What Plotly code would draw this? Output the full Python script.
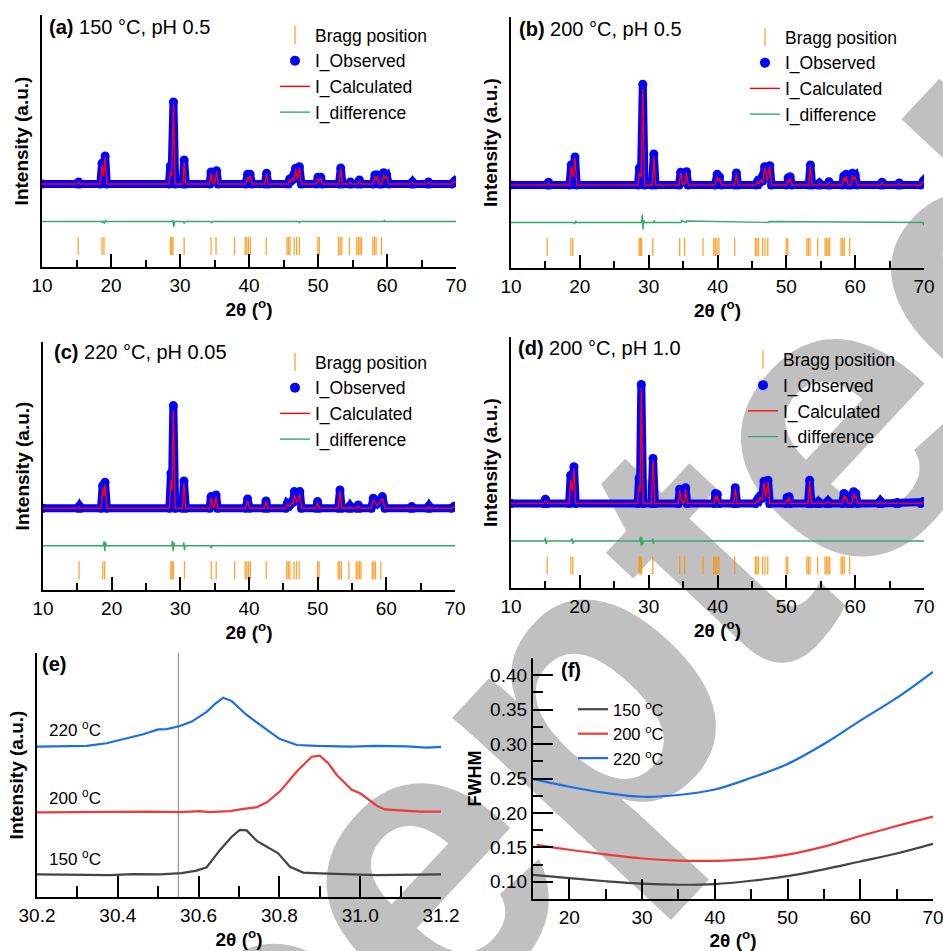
import plotly.graph_objects as go

FONT = "Arial, Liberation Sans, sans-serif"

# ---------------- data: Rietveld panels (vertices, a.u.) ----------------
a_x = [10.0,
       15.1, 15.3, 15.5,
       18.45, 18.7, 18.92, 19.15, 19.4,
       28.4, 28.6, 28.8, 29.05, 29.3,
       30.4, 30.6, 30.85,
       34.3, 34.5, 34.75, 35.05, 35.3, 35.55,
       39.5, 39.8, 39.97, 40.15, 40.45,
       42.3, 42.55, 42.8,
       45.7, 45.9, 46.1, 46.3, 46.52, 46.75, 47.02, 47.3, 47.6,
       49.75, 50.0, 50.2, 50.4, 50.65,
       53.05, 53.3, 53.55,
       54.5, 54.7, 54.9,
       55.75, 56.0, 56.25,
       58.0, 58.25, 58.42, 58.6, 58.85,
       59.25, 59.5, 59.72, 59.95, 60.25,
       63.5, 63.7, 63.9,
       65.8, 66.0, 66.2,
       69.4, 69.8, 70.0]
a_obs = [0,
         0, 2, 0,
         0, 20.7, 14, 28, 0,
         0, 18, 14, 82, 0,
         0, 24, 0,
         0, 12, 3, 3, 13.3, 0,
         0, 9.7, 8, 9.7, 0,
         0, 10.7, 0,
         0, 5, 3, 6.7, 5, 15.7, 8, 17.3, 0,
         0, 6.7, 5, 6.7, 0,
         0, 16, 0,
         0, 2, 0,
         0, 4, 0,
         0, 9, 7, 9, 0,
         0, 11.3, 8, 9, 0,
         0, 2, 0,
         0, 2, 0,
         0, 3, 1.5]
a_calc = [0,
          0, 1.5, 0,
          0, 19, 8, 27, 0,
          0, 12, 8, 80, 0,
          0, 22, 0,
          0, 11, 1, 1, 12.5, 0,
          0, 7, 4, 8, 0,
          0, 10, 0,
          0, 4, 2, 6, 3, 15, 5, 16.5, 0,
          0, 5.5, 3, 6, 0,
          0, 15.5, 0,
          0, 1.5, 0,
          0, 3, 0,
          0, 7.5, 4, 8, 0,
          0, 9.5, 5, 8, 0,
          0, 1.5, 0,
          0, 1.5, 0,
          0, 2.5, 1.5]
a_dx = [10, 18.6, 18.75, 18.9, 19.05, 19.2, 19.35, 28.85, 28.98, 29.1, 29.22, 30.45, 30.6, 30.75,
        34.45, 34.55, 34.7, 47.2, 47.3, 47.4, 59.5, 59.6, 59.7, 70]
a_dy = [-37.5, -37.5, -38.5, -37, -39.5, -36.5, -37.5, -37.5, -36.5, -43, -37.5, -37.5, -39.5, -37.5,
        -37.5, -39, -37.5, -37.5, -38.5, -37.5, -37.5, -36.5, -37.5, -37.5]

b_x = [10.0,
       15.25, 15.45, 15.65,
       18.5, 18.75, 19.0, 19.3, 19.55,
       28.45, 28.65, 28.9, 29.15, 29.4,
       30.5, 30.75, 31.0,
       34.4, 34.65, 34.95, 35.25, 35.5, 35.75,
       39.65, 39.95, 40.12, 40.3, 40.6,
       42.5, 42.75, 43.0,
       45.6, 45.8, 46.05, 46.3, 46.57, 46.85, 47.22, 47.6, 47.85,
       50.0, 50.25, 50.38, 50.55, 50.8,
       53.25, 53.5, 53.75,
       54.6, 54.8, 55.0,
       56.0, 56.2, 56.4,
       58.1, 58.35, 58.52, 58.7, 58.95,
       59.35, 59.6, 59.8, 60.0, 60.3,
       63.7, 63.9, 64.1,
       66.2, 66.4, 66.6,
       69.5, 69.9, 70.0]
b_obs = [0,
         0, 2.7, 0,
         0, 20, 14, 28, 0,
         0, 17, 14, 100.7, 0,
         0, 31, 0,
         0, 12.7, 3, 3, 13.3, 0,
         0, 10.7, 7, 8, 0,
         0, 12, 0,
         0, 3.3, 2, 6, 4, 18.3, 8, 19.3, 0,
         0, 7, 6, 8.3, 0,
         0, 20, 0,
         0, 1.7, 0,
         0, 3.3, 0,
         0, 9, 7, 10.7, 0,
         0, 11.7, 9, 10, 0,
         0, 2.7, 0,
         0, 2, 0,
         0, 4, 3]
b_calc = [0,
          0, 2, 0,
          0, 18, 8, 27, 0,
          0, 12, 8, 96, 0,
          0, 29, 0,
          0, 12, 1, 1, 12.5, 0,
          0, 8, 4, 7, 0,
          0, 11.5, 0,
          0, 3, 1, 5.5, 2, 17.5, 5, 18.5, 0,
          0, 5, 3, 7, 0,
          0, 19, 0,
          0, 1.2, 0,
          0, 2.5, 0,
          0, 7.5, 4, 9, 0,
          0, 10, 5, 8.5, 0,
          0, 2, 0,
          0, 1.5, 0,
          0, 3.5, 3]
b_dx = [10, 19.1, 19.25, 19.4, 19.55, 28.95, 29.08, 29.18, 29.3, 29.42, 30.7, 30.82, 30.95,
        34.7, 34.8, 35.4, 35.5, 47.4, 47.5, 69.85, 70]
b_dy = [-37.5, -37.5, -39, -36, -37.5, -37.5, -29.5, -44.5, -35.5, -37.5, -37.5, -35.5, -37.5,
        -37.5, -35.5, -37.5, -36, -37.5, -36.5, -37.5, -40]

c_x = [10.0,
       15.1, 15.3, 15.5,
       18.45, 18.69, 18.86, 19.03, 19.3,
       28.4, 28.64, 28.8, 28.98, 29.25,
       30.3, 30.53, 30.8,
       34.25, 34.47, 34.8, 35.0, 35.2, 35.45,
       39.5, 39.8, 40.1,
       42.25, 42.48, 42.75,
       45.35, 45.58, 45.95, 46.3, 46.45, 46.6, 47.0, 47.4, 47.65,
       49.75, 49.99, 50.25,
       53.0, 53.25, 53.5,
       54.5, 54.7, 54.9,
       55.7, 55.92, 56.15,
       57.8, 58.1, 58.7, 59.42, 59.8,
       63.5, 63.7, 63.9,
       66.0, 66.2, 66.4,
       69.5, 69.9, 70.0]
c_obs = [0,
         0, 2.3, 0,
         0, 22.7, 18, 26, 0,
         0, 35, 25, 102.7, 0,
         0, 27.3, 0,
         0, 11.7, 4, 4, 13.3, 0,
         0, 9.3, 0,
         0, 7.3, 0,
         0, 5, 3, 7.3, 6, 16.7, 10, 16.7, 0,
         0, 6.7, 0,
         0, 18.3, 0,
         0, 2.3, 0,
         0, 3.3, 0,
         0, 10, 5, 11.7, 0,
         0, 1.7, 0,
         0, 2.3, 0,
         0, 2, 2]
c_calc = [0,
          0, 1.5, 0,
          0, 20, 12, 24, 0,
          0, 28, 18, 98, 0,
          0, 25, 0,
          0, 10.5, 1, 1, 12, 0,
          0, 7.5, 0,
          0, 7, 0,
          0, 4, 2, 6, 4, 13, 6, 14, 0,
          0, 5.5, 0,
          0, 17.5, 0,
          0, 1.5, 0,
          0, 2.5, 0,
          0, 8.5, 3, 10, 0,
          0, 1, 0,
          0, 1.5, 0,
          0, 1.5, 2]
c_dx = [10, 18.75, 18.9, 19.0, 19.1, 19.25, 28.75, 28.85, 28.95, 29.05, 29.15, 30.4, 30.5, 30.6, 30.7,
        34.4, 34.5, 34.6, 70]
c_dy = [-37.5, -37.5, -33, -43, -34, -37.5, -37.5, -32.5, -43, -34, -37.5, -37.5, -34, -42, -37.5,
        -37.5, -40, -37.5, -37.5]

d_x = [10.0,
       14.75, 15.0, 15.25,
       18.45, 18.67, 18.9, 19.15, 19.4,
       28.4, 28.6, 28.75, 28.93, 29.2,
       30.4, 30.63, 30.9,
       34.3, 34.5, 34.85, 35.15, 35.37, 35.6,
       39.5, 39.72, 39.85, 39.98, 40.25,
       42.35, 42.58, 42.85,
       45.55, 45.75, 45.97, 46.2, 46.48, 46.76, 47.05, 47.34, 47.6,
       49.95, 50.1, 50.24, 50.4, 50.6,
       53.15, 53.39, 53.65,
       54.45, 54.65, 54.85,
       55.8, 56.05, 56.3,
       58.1, 58.38, 58.55, 58.7, 58.95,
       59.5, 59.78, 59.95, 60.1, 60.35,
       63.45, 63.66, 63.9,
       65.9, 66.1, 66.3,
       69.5, 69.9, 70.0]
d_obs = [0,
         0, 4.3, 0,
         0, 28.3, 20, 36.7, 0,
         0, 25, 20, 119, 0,
         0, 45, 0,
         0, 14.3, 3, 3, 15.7, 0,
         0, 10, 8, 9, 0,
         0, 15.7, 0,
         0, 3.3, 2.5, 7.7, 5, 22.3, 10, 23.3, 0,
         0, 6, 5, 6.7, 0,
         0, 23.3, 0,
         0, 1.7, 0,
         0, 2.3, 0,
         0, 10, 7, 8, 0,
         0, 11.7, 9, 10, 0,
         0, 2.3, 0,
         0, 1, 0,
         0, 2, 1.5]
d_calc = [0,
          0, 3, 0,
          0, 24, 12, 35, 0,
          0, 18, 12, 115, 0,
          0, 43, 0,
          0, 13, 1, 1, 14.5, 0,
          0, 7, 4, 8, 0,
          0, 15, 0,
          0, 3, 1.5, 6.5, 3, 21, 6, 22, 0,
          0, 4, 2, 6, 0,
          0, 22.5, 0,
          0, 1.2, 0,
          0, 1.8, 0,
          0, 8, 4, 7, 0,
          0, 10, 5, 8, 0,
          0, 1.8, 0,
          0, 0.8, 0,
          0, 1.5, 1.5]
d_dx = [10, 14.9, 15.0, 15.1, 15.25, 18.7, 18.85, 19.0, 19.15, 28.7, 28.8, 28.9, 29.0, 29.1, 29.25,
        30.5, 30.6, 30.7, 30.8, 70]
d_dy = [-37.5, -37.5, -34, -40.5, -37.5, -37.5, -35, -40, -37.5, -37.5, -33, -42.5, -33.5, -41, -37.5,
        -37.5, -35, -40.5, -37.5, -37.5]

bragg_pos = [15.25, 18.7, 18.98, 28.62, 28.8, 28.98, 30.6, 34.5, 35.22, 37.9, 39.45, 39.68, 39.92,
             40.2, 42.5, 45.5, 45.72, 45.95, 46.55, 46.9, 47.3, 49.98, 50.2, 52.98, 53.2, 53.45,
             54.55, 55.62, 55.85, 56.08, 56.3, 57.95, 58.18, 58.42, 59.2]
bragg_level = -62

titles = ["150 °C, pH 0.5", "200 °C, pH 0.5", "220 °C, pH 0.05", "200 °C, pH 1.0"]
panel_tags = ["(a)", "(b)", "(c)", "(d)", "(e)", "(f)"]
y_ranges = [[-83, 169], [-83, 168], [-81.7, 166.3], [-84.5, 166.5]]

# ---------------- data: panel (e) peak profiles ----------------
e_blue_x = [30.2, 30.323, 30.372, 30.422, 30.463, 30.50, 30.521, 30.554, 30.583, 30.62, 30.64, 30.661,
            30.682, 30.719, 30.76, 30.80, 30.843, 30.892, 30.975, 31.041, 31.115, 31.165, 31.2]
e_blue_y = [61.6, 61.9, 63.0, 65.0, 66.7, 68.7, 68.8, 70.1, 71.9, 75.9, 79.1, 81.7,
            80.3, 74.6, 69.8, 64.8, 62.3, 61.9, 61.6, 61.9, 61.7, 61.2, 61.5]
e_red_x = [30.2, 30.356, 30.48, 30.554, 30.603, 30.624, 30.678, 30.711, 30.744, 30.769, 30.801, 30.843,
           30.88, 30.90, 30.921, 30.942, 30.979, 31.0, 31.041, 31.061, 31.099, 31.148, 31.2]
e_red_y = [34.7, 35.0, 35.0, 34.8, 35.2, 34.8, 35.2, 36.1, 36.8, 38.8, 43.2, 51.4,
           57.5, 57.9, 54.8, 50.0, 43.9, 42.5, 37.4, 35.9, 35.5, 35.0, 35.0]
e_black_x = [30.2, 30.315, 30.381, 30.438, 30.504, 30.558, 30.595, 30.62, 30.653, 30.682, 30.702,
             30.719, 30.744, 30.769, 30.797, 30.826, 30.859, 30.90, 30.975, 31.041, 31.2]
e_black_y = [9.3, 9.3, 9.0, 9.4, 9.3, 9.8, 10.8, 12.2, 19.3, 24.7, 27.5,
             27.3, 23.0, 20.6, 17.9, 12.4, 10.0, 9.7, 9.3, 9.0, 9.3]
e_labels = ["220 <sup>o</sup>C", "200 <sup>o</sup>C", "150 <sup>o</sup>C"]
e_label_y = [68.9, 41.0, 16.0]
e_ref_line = 30.55

# ---------------- data: panel (f) FWHM ----------------
f_x = [15, 20, 25, 30, 35, 40, 45, 50, 55, 60, 65, 70]
f_x_red = [15.5, 20, 25, 30, 35, 40, 45, 50, 55, 60, 65, 70]
f_150 = [0.110, 0.1054, 0.1008, 0.0972, 0.0957, 0.0967, 0.1015, 0.1083, 0.118, 0.1295, 0.141, 0.155]
f_200 = [0.1536, 0.1465, 0.1398, 0.1338, 0.1308, 0.1305, 0.1330, 0.1395, 0.151, 0.1665, 0.181, 0.1946]
f_220 = [0.249, 0.238, 0.229, 0.2235, 0.226, 0.234, 0.251, 0.271, 0.300, 0.334, 0.367, 0.405]
f_names = ["150 <sup>o</sup>C", "200 <sup>o</sup>C", "220 <sup>o</sup>C"]

C_BLUE_E = "#1c6fe3"
C_RED_E = "#ec3b3b"
C_BLACK_E = "#444444"
C_BRAGG = "rgba(255,140,0,0.8)"

W, H = 943, 951
def px_x(p):
    return p / W
def px_y(p):
    return 1 - p / H

dom = {
    1: ([42, 456], [267, 15]),
    2: ([511, 924], [268, 17]),
    3: ([43, 455], [590, 342]),
    4: ([511, 924], [588, 337]),
    5: ([37, 441], [897, 653]),
    6: ([533, 933], [899, 658]),
}

fig = go.Figure()

panels = [(a_x, a_obs, a_calc, a_dx, a_dy), (b_x, b_obs, b_calc, b_dx, b_dy),
          (c_x, c_obs, c_calc, c_dx, c_dy), (d_x, d_obs, d_calc, d_dx, d_dy)]
legend_names = ["legend", "legend2", "legend3", "legend4"]
for i, (px_, po, pc, pdx, pdy) in enumerate(panels):
    n = i + 1
    xa = "x" if n == 1 else f"x{n}"
    ya = "y" if n == 1 else f"y{n}"
    lg = legend_names[i]
    fig.add_trace(go.Scatter(x=bragg_pos, y=[bragg_level] * len(bragg_pos), mode="markers",
                             marker=dict(symbol="line-ns-open", size=13, color=C_BRAGG,
                                         line=dict(color=C_BRAGG, width=1.3)),
                             name="Bragg position", xaxis=xa, yaxis=ya, legend=lg))
    fig.add_trace(go.Scatter(x=[None], y=[None], mode="markers",
                             marker=dict(color="#0000ff", size=10),
                             name="I_Observed", xaxis=xa, yaxis=ya, legend=lg))
    fig.add_trace(go.Scatter(x=px_, y=po, mode="lines+markers",
                             line=dict(color="#0000ff", width=8),
                             marker=dict(color="#0000ff", size=9),
                             name="I_Observed", showlegend=False, xaxis=xa, yaxis=ya))
    fig.add_trace(go.Scatter(x=px_, y=pc, mode="lines", line=dict(color="#ff0000", width=1.4),
                             name="I_Calculated", xaxis=xa, yaxis=ya, legend=lg))
    fig.add_trace(go.Scatter(x=pdx, y=pdy, mode="lines", line=dict(color="#35a86a", width=1.4),
                             name="I_difference", xaxis=xa, yaxis=ya, legend=lg))

# panel e
for xs, ys, col in [(e_blue_x, e_blue_y, C_BLUE_E), (e_red_x, e_red_y, C_RED_E),
                    (e_black_x, e_black_y, C_BLACK_E)]:
    fig.add_trace(go.Scatter(x=xs, y=ys, mode="lines", line=dict(color=col, width=2.2),
                             showlegend=False, xaxis="x5", yaxis="y5"))

# panel f
for xs, ys, col, nm in [(f_x, f_150, C_BLACK_E, f_names[0]), (f_x_red, f_200, C_RED_E, f_names[1]),
                        (f_x, f_220, C_BLUE_E, f_names[2])]:
    fig.add_trace(go.Scatter(x=xs, y=ys, mode="lines", line=dict(color=col, width=2.2, shape="spline"),
                             name=nm, xaxis="x6", yaxis="y6", legend="legend5"))

axis_common = dict(showgrid=False, zeroline=False, showline=True, linecolor="black", linewidth=2.2,
                   automargin=False, ticklabeloverflow="allow",
                   tickfont=dict(family=FONT, size=19, color="black"))
xtitle = "<b>2θ (<sup>o</sup>)</b>"
ytitle = "<b>Intensity (a.u.)</b>"
layout = {}
for n in range(1, 7):
    xk = "xaxis" if n == 1 else f"xaxis{n}"
    yk = "yaxis" if n == 1 else f"yaxis{n}"
    xd, yd = dom[n]
    xdom = [px_x(xd[0]), px_x(xd[1])]
    ydom = [px_y(yd[0]), px_y(yd[1])]
    ya_id = "y" if n == 1 else f"y{n}"
    xa_id = "x" if n == 1 else f"x{n}"
    if n <= 4:
        xax = dict(axis_common, domain=xdom, anchor=ya_id, range=[10, 70], tickvals=[10, 20, 30, 40, 50, 60, 70],
                   ticks="inside", ticklen=13, tickwidth=2, tickcolor="black",
                   minor=dict(ticks="inside", ticklen=6.5, tickwidth=2, tickcolor="black", dtick=5),
                   title=dict(text=xtitle, font=dict(family=FONT, size=19, color="black"), standoff=2))
        yax = dict(axis_common, domain=ydom, anchor=xa_id, range=y_ranges[n - 1], showticklabels=False,
                   ticks="", title=dict(text=ytitle, font=dict(family=FONT, size=19, color="black"), standoff=6))
    elif n == 5:
        xax = dict(axis_common, domain=xdom, anchor=ya_id, range=[30.2, 31.2], dtick=0.2, tick0=30.2,
                   tickformat=".1f", ticks="inside", ticklen=21, tickwidth=2, tickcolor="black",
                   minor=dict(ticks="inside", ticklen=11, tickwidth=2, tickcolor="black", dtick=0.1),
                   title=dict(text=xtitle, font=dict(family=FONT, size=19, color="black"), standoff=2))
        yax = dict(axis_common, domain=ydom, anchor=xa_id, range=[0, 100], showticklabels=False,
                   ticks="", title=dict(text=ytitle, font=dict(family=FONT, size=19, color="black"), standoff=6))
    else:
        xax = dict(axis_common, domain=xdom, anchor=ya_id, range=[15, 70], tickvals=[20, 30, 40, 50, 60, 70],
                   ticks="inside", ticklen=20, tickwidth=2, tickcolor="black",
                   minor=dict(ticks="inside", ticklen=10, tickwidth=2, tickcolor="black", dtick=5),
                   title=dict(text=xtitle, font=dict(family=FONT, size=19, color="black"), standoff=2))
        yax = dict(axis_common, domain=ydom, anchor=xa_id, range=[0.075, 0.425], dtick=0.05, tick0=0.1,
                   tickformat=".2f", ticks="inside", ticklen=20, tickwidth=2, tickcolor="black",
                   minor=dict(ticks="inside", ticklen=10, tickwidth=2, tickcolor="black", dtick=0.025, tick0=0.1),
                   title=dict(text="<b>FWHM</b>", font=dict(family=FONT, size=18, color="black"), standoff=4))
    layout[xk] = xax
    layout[yk] = yax

def legend_at(left_px, top_px, size):
    return dict(x=px_x(left_px), y=px_y(top_px), xanchor="left", yanchor="top", xref="paper", yref="paper",
                bgcolor="rgba(0,0,0,0)", borderwidth=0, font=dict(family=FONT, size=size, color="black"),
                tracegroupgap=0, itemwidth=30)

layout["legend"] = legend_at(275, 17, 17.5)
layout["legend2"] = legend_at(745, 19, 17.5)
layout["legend3"] = legend_at(275, 344, 17.5)
layout["legend4"] = legend_at(743, 341.5, 17.5)
layout["legend5"] = legend_at(573, 692, 16.5)

annotations = []
tag_pos = [(47, 26.5), (517, 29), (52, 352), (516, 348), (40, 664), (559, 670)]
for i, (tx, ty) in enumerate(tag_pos):
    text = f"<b>{panel_tags[i]}</b>"
    if i < 4:
        text += " " + titles[i]
    annotations.append(dict(x=px_x(tx), y=px_y(ty), xref="paper", yref="paper", xanchor="left",
                            yanchor="middle", showarrow=False, text=text,
                            font=dict(family=FONT, size=20, color="black")))
for lab, ly in zip(e_labels, e_label_y):
    annotations.append(dict(x=30.225, y=ly, xref="x5", yref="y5", xanchor="left", yanchor="middle",
                            showarrow=False, text=lab, font=dict(family=FONT, size=17, color="black")))

shapes = [
    dict(type="line", xref="x5", yref="y5 domain", x0=e_ref_line, x1=e_ref_line, y0=0, y1=1,
         line=dict(color="#9a9a9a", width=1.2), layer="below"),
    # faint "Accepted" watermark of the source page
    dict(type="rect", xref="paper", yref="paper", x0=px_x(412), x1=px_x(432), y0=px_y(814), y1=px_y(794),
         line=dict(width=0), fillcolor="rgba(0,0,0,0)", layer="below",
         label=dict(text="Accepted", textangle=-47, textposition="middle center",
                    font=dict(family=FONT, size=405, color="#c0c0c0", weight="bold"))),
]

fig.update_layout(**layout)
fig.update_layout(width=W, height=H, margin=dict(l=0, r=0, t=0, b=0),
                  paper_bgcolor="white", plot_bgcolor="rgba(0,0,0,0)",
                  annotations=annotations, shapes=shapes,
                  font=dict(family=FONT, size=17, color="black"))

fig.write_html("out.html")
